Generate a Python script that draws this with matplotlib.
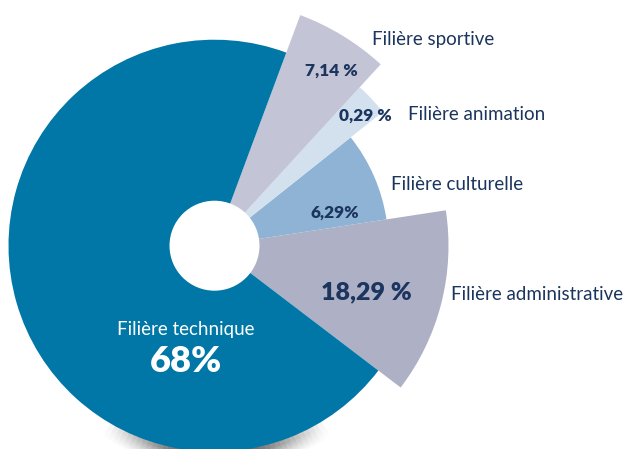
import numpy as np
import matplotlib.pyplot as plt
from matplotlib.patches import Wedge, Circle

# Répartition des effectifs par filière
filieres = ['Filière technique', 'Filière administrative', 'Filière culturelle',
            'Filière animation', 'Filière sportive']
valeurs = ['68%', '18,29 %', '6,29%', '0,29 %', '7,14 %']
# angular span of each slice (deg) and outer radius (px)
spans = [253.1, 46.0, 29.8, 9.0, 22.1]
radii = [206, 234, 174, 215, 246]
colors = ['#0077a6', '#aeb0c5', '#8fb3d4', '#d3e0ee', '#c3c4d5']

start_angle = -37.3
hole = 45
cx, cy = 214.5, 449 - 245.7
navy = '#1c355e'

plt.rcParams['font.family'] = ['Lato', 'DejaVu Sans']

fig = plt.figure(figsize=(6.3, 4.49), dpi=100)
ax = fig.add_axes([0, 0, 1, 1])
ax.set_xlim(0, 630)
ax.set_ylim(0, 449)
ax.set_aspect('equal')
ax.axis('off')

    # soft shadow under the bottom of the big slice (fades out to the sides)
for k in range(10):
    for j in range(20):
        ax.add_patch(Wedge((cx + 2, cy - 8), radii[0] - 4 + k * 1.5, 238 + j * 1.5, 302 - j * 1.5,
                           color='black', alpha=0.0035, lw=0, zorder=1))

    # slices, going counter-clockwise from the technique / administrative border
theta1 = start_angle
for i in [1, 2, 3, 4]:
    t2 = theta1 + spans[i]
    ax.add_patch(Wedge((cx, cy), radii[i], theta1, t2, color=colors[i], lw=0, zorder=2))
    theta1 = t2
ax.add_patch(Wedge((cx, cy), radii[0], theta1, start_angle + 360, color=colors[0], lw=0, zorder=2))
ax.add_patch(Circle((cx, cy), hole, color='white', lw=0, zorder=3))

    # labels
reg = 13.5
bold = 12.4
ax.text(372, 449 - 39, filieres[4], fontsize=reg, color=navy, va='center', ha='left', zorder=4)
ax.text(331, 449 - 71, valeurs[4], fontsize=bold, color=navy, fontweight='heavy', va='center', ha='center', zorder=4)
ax.text(339, 449 - 116, valeurs[3], fontsize=bold, color=navy, fontweight='heavy', va='center', ha='left', zorder=4)
ax.text(408, 449 - 115, filieres[3], fontsize=reg, color=navy, va='center', ha='left', zorder=4)
ax.text(391, 449 - 185, filieres[2], fontsize=reg, color=navy, va='center', ha='left', zorder=4)
ax.text(335, 449 - 213, valeurs[2], fontsize=bold, color=navy, fontweight='heavy', va='center', ha='center', zorder=4)
ax.text(366, 449 - 292, valeurs[1], fontsize=18, color=navy, fontweight='heavy', va='center', ha='center', zorder=4)
ax.text(451, 449 - 295, filieres[1], fontsize=reg, color=navy, va='center', ha='left', zorder=4)
ax.text(186, 449 - 330, filieres[0], fontsize=reg, color='white', va='center', ha='center', zorder=4)
ax.text(186, 449 - 361, valeurs[0], fontsize=26, color='white', fontweight='heavy', va='center', ha='center', zorder=4)

fig.savefig('out.png', dpi=100)
